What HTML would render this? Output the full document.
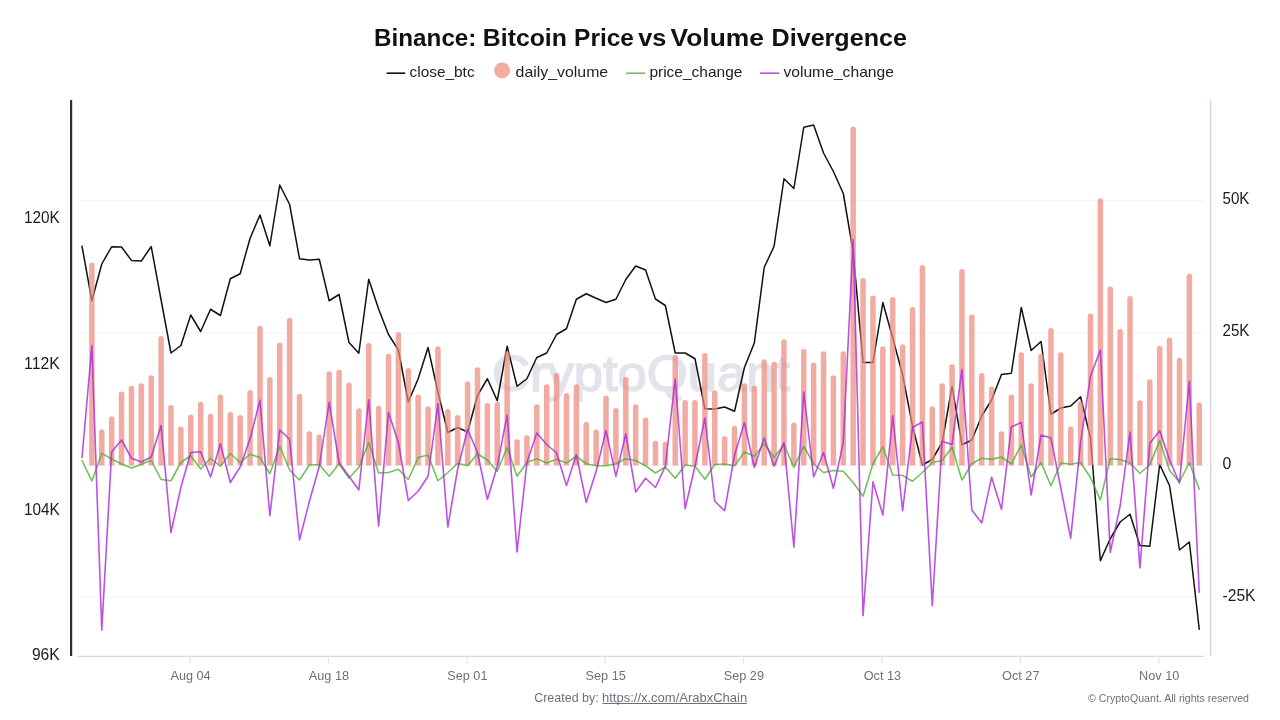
<!DOCTYPE html>
<html lang="en"><head><meta charset="utf-8"><title>Binance: Bitcoin Price vs Volume Divergence</title>
<style>html,body{margin:0;padding:0;background:#fff;}body{width:1280px;height:720px;overflow:hidden;}svg{display:block;}text{font-family:"Liberation Sans",sans-serif;}</style>
</head><body>
<svg width="1280" height="720" viewBox="0 0 1280 720">
<rect x="0" y="0" width="1280" height="720" fill="#ffffff"/>
<line x1="77.5" x2="1204" y1="200.5" y2="200.5" stroke="#f3f3f6" stroke-width="1"/>
<line x1="77.5" x2="1204" y1="333" y2="333" stroke="#f3f3f6" stroke-width="1"/>
<line x1="77.5" x2="1204" y1="465.2" y2="465.2" stroke="#f3f3f6" stroke-width="1"/>
<line x1="77.5" x2="1204" y1="597" y2="597" stroke="#f3f3f6" stroke-width="1"/>
<defs><filter id="wb" x="-5%" y="-20%" width="110%" height="140%"><feGaussianBlur stdDeviation="0.5"/></filter></defs>
<text x="492" y="391" font-size="50" fill="#e3e3eb" stroke="#e3e3eb" stroke-width="1.6" filter="url(#wb)" textLength="298" lengthAdjust="spacingAndGlyphs">CryptoQuant</text>
<polyline points="82.00,246.25 91.89,300.75 101.77,264.00 111.66,246.75 121.55,247.00 131.44,260.40 141.32,261.00 151.21,246.50 161.10,300.00 170.98,353.00 180.87,345.50 190.76,315.00 200.64,331.50 210.53,309.25 220.42,315.50 230.31,278.75 240.19,273.75 250.08,238.25 259.97,215.00 269.85,245.75 279.74,185.00 289.63,204.50 299.51,258.75 309.40,260.00 319.29,259.25 329.18,300.75 339.06,294.50 348.95,342.50 358.84,353.25 368.72,279.25 378.61,309.00 388.50,334.50 398.38,350.00 408.27,402.00 418.16,378.75 428.05,347.50 437.93,392.00 447.82,432.50 457.71,427.50 467.59,432.00 477.48,395.50 487.37,378.75 497.25,400.60 507.14,346.25 517.03,386.25 526.91,378.75 536.80,357.50 546.69,353.00 556.58,334.50 566.46,328.75 576.35,299.25 586.24,293.75 596.12,298.25 606.01,302.50 615.90,299.25 625.79,279.50 635.67,266.00 645.56,270.00 655.45,299.00 665.33,305.50 675.22,353.00 685.11,353.00 694.99,358.75 704.88,408.75 714.77,409.00 724.65,407.00 734.54,411.25 744.43,367.50 754.32,343.00 764.20,267.50 774.09,246.25 783.98,178.75 793.86,188.50 803.75,127.25 813.64,125.00 823.53,153.00 833.41,171.50 843.30,193.50 853.19,252.00 863.07,362.50 872.96,362.50 882.85,302.50 892.73,338.00 902.62,375.00 912.51,426.00 922.39,465.00 932.28,459.50 942.17,442.50 952.06,386.25 961.94,444.75 971.83,440.00 981.72,416.00 991.60,400.00 1001.49,374.50 1011.38,373.25 1021.27,307.50 1031.15,350.50 1041.04,341.50 1050.93,414.25 1060.81,408.00 1070.70,406.00 1080.59,396.75 1090.47,438.00 1100.36,560.75 1110.25,538.75 1120.13,522.00 1130.02,514.25 1139.91,545.50 1149.80,546.25 1159.68,464.50 1169.57,485.75 1179.46,550.00 1189.34,542.00 1199.23,629.25" fill="none" stroke="#111111" stroke-width="1.5" stroke-linejoin="round" stroke-linecap="round"/>
<g fill="#ed8b80" fill-opacity="0.72">
<path d="M89.14,465.4 V265.25 A2.75,2.75 0 0 1 94.64,265.25 V465.4 Z"/>
<path d="M99.02,465.4 V432.00 A2.75,2.75 0 0 1 104.52,432.00 V465.4 Z"/>
<path d="M108.91,465.4 V419.00 A2.75,2.75 0 0 1 114.41,419.00 V465.4 Z"/>
<path d="M118.80,465.4 V394.15 A2.75,2.75 0 0 1 124.30,394.15 V465.4 Z"/>
<path d="M128.69,465.4 V388.50 A2.75,2.75 0 0 1 134.19,388.50 V465.4 Z"/>
<path d="M138.57,465.4 V386.00 A2.75,2.75 0 0 1 144.07,386.00 V465.4 Z"/>
<path d="M148.46,465.4 V378.00 A2.75,2.75 0 0 1 153.96,378.00 V465.4 Z"/>
<path d="M158.35,465.4 V338.75 A2.75,2.75 0 0 1 163.85,338.75 V465.4 Z"/>
<path d="M168.23,465.4 V407.65 A2.75,2.75 0 0 1 173.73,407.65 V465.4 Z"/>
<path d="M178.12,465.4 V429.25 A2.75,2.75 0 0 1 183.62,429.25 V465.4 Z"/>
<path d="M188.01,465.4 V417.25 A2.75,2.75 0 0 1 193.51,417.25 V465.4 Z"/>
<path d="M197.89,465.4 V404.50 A2.75,2.75 0 0 1 203.39,404.50 V465.4 Z"/>
<path d="M207.78,465.4 V416.50 A2.75,2.75 0 0 1 213.28,416.50 V465.4 Z"/>
<path d="M217.67,465.4 V397.25 A2.75,2.75 0 0 1 223.17,397.25 V465.4 Z"/>
<path d="M227.56,465.4 V414.75 A2.75,2.75 0 0 1 233.06,414.75 V465.4 Z"/>
<path d="M237.44,465.4 V417.85 A2.75,2.75 0 0 1 242.94,417.85 V465.4 Z"/>
<path d="M247.33,465.4 V392.65 A2.75,2.75 0 0 1 252.83,392.65 V465.4 Z"/>
<path d="M257.22,465.4 V328.50 A2.75,2.75 0 0 1 262.72,328.50 V465.4 Z"/>
<path d="M267.10,465.4 V379.75 A2.75,2.75 0 0 1 272.60,379.75 V465.4 Z"/>
<path d="M276.99,465.4 V345.25 A2.75,2.75 0 0 1 282.49,345.25 V465.4 Z"/>
<path d="M286.88,465.4 V320.50 A2.75,2.75 0 0 1 292.38,320.50 V465.4 Z"/>
<path d="M296.76,465.4 V396.50 A2.75,2.75 0 0 1 302.26,396.50 V465.4 Z"/>
<path d="M306.65,465.4 V434.00 A2.75,2.75 0 0 1 312.15,434.00 V465.4 Z"/>
<path d="M316.54,465.4 V437.25 A2.75,2.75 0 0 1 322.04,437.25 V465.4 Z"/>
<path d="M326.43,465.4 V374.00 A2.75,2.75 0 0 1 331.93,374.00 V465.4 Z"/>
<path d="M336.31,465.4 V372.50 A2.75,2.75 0 0 1 341.81,372.50 V465.4 Z"/>
<path d="M346.20,465.4 V385.25 A2.75,2.75 0 0 1 351.70,385.25 V465.4 Z"/>
<path d="M356.09,465.4 V411.00 A2.75,2.75 0 0 1 361.59,411.00 V465.4 Z"/>
<path d="M365.97,465.4 V345.75 A2.75,2.75 0 0 1 371.47,345.75 V465.4 Z"/>
<path d="M375.86,465.4 V408.50 A2.75,2.75 0 0 1 381.36,408.50 V465.4 Z"/>
<path d="M385.75,465.4 V356.50 A2.75,2.75 0 0 1 391.25,356.50 V465.4 Z"/>
<path d="M395.63,465.4 V334.75 A2.75,2.75 0 0 1 401.13,334.75 V465.4 Z"/>
<path d="M405.52,465.4 V370.75 A2.75,2.75 0 0 1 411.02,370.75 V465.4 Z"/>
<path d="M415.41,465.4 V397.25 A2.75,2.75 0 0 1 420.91,397.25 V465.4 Z"/>
<path d="M425.30,465.4 V409.00 A2.75,2.75 0 0 1 430.80,409.00 V465.4 Z"/>
<path d="M435.18,465.4 V349.00 A2.75,2.75 0 0 1 440.68,349.00 V465.4 Z"/>
<path d="M445.07,465.4 V411.85 A2.75,2.75 0 0 1 450.57,411.85 V465.4 Z"/>
<path d="M454.96,465.4 V417.85 A2.75,2.75 0 0 1 460.46,417.85 V465.4 Z"/>
<path d="M464.84,465.4 V384.00 A2.75,2.75 0 0 1 470.34,384.00 V465.4 Z"/>
<path d="M474.73,465.4 V370.00 A2.75,2.75 0 0 1 480.23,370.00 V465.4 Z"/>
<path d="M484.62,465.4 V405.75 A2.75,2.75 0 0 1 490.12,405.75 V465.4 Z"/>
<path d="M494.50,465.4 V404.75 A2.75,2.75 0 0 1 500.00,404.75 V465.4 Z"/>
<path d="M504.39,465.4 V354.00 A2.75,2.75 0 0 1 509.89,354.00 V465.4 Z"/>
<path d="M514.28,465.4 V442.00 A2.75,2.75 0 0 1 519.78,442.00 V465.4 Z"/>
<path d="M524.16,465.4 V438.00 A2.75,2.75 0 0 1 529.66,438.00 V465.4 Z"/>
<path d="M534.05,465.4 V407.00 A2.75,2.75 0 0 1 539.55,407.00 V465.4 Z"/>
<path d="M543.94,465.4 V387.00 A2.75,2.75 0 0 1 549.44,387.00 V465.4 Z"/>
<path d="M553.83,465.4 V375.75 A2.75,2.75 0 0 1 559.33,375.75 V465.4 Z"/>
<path d="M563.71,465.4 V395.75 A2.75,2.75 0 0 1 569.21,395.75 V465.4 Z"/>
<path d="M573.60,465.4 V387.00 A2.75,2.75 0 0 1 579.10,387.00 V465.4 Z"/>
<path d="M583.49,465.4 V424.50 A2.75,2.75 0 0 1 588.99,424.50 V465.4 Z"/>
<path d="M593.37,465.4 V432.25 A2.75,2.75 0 0 1 598.87,432.25 V465.4 Z"/>
<path d="M603.26,465.4 V398.25 A2.75,2.75 0 0 1 608.76,398.25 V465.4 Z"/>
<path d="M613.15,465.4 V410.75 A2.75,2.75 0 0 1 618.65,410.75 V465.4 Z"/>
<path d="M623.04,465.4 V379.75 A2.75,2.75 0 0 1 628.54,379.75 V465.4 Z"/>
<path d="M632.92,465.4 V407.00 A2.75,2.75 0 0 1 638.42,407.00 V465.4 Z"/>
<path d="M642.81,465.4 V420.25 A2.75,2.75 0 0 1 648.31,420.25 V465.4 Z"/>
<path d="M652.70,465.4 V443.50 A2.75,2.75 0 0 1 658.20,443.50 V465.4 Z"/>
<path d="M662.58,465.4 V444.25 A2.75,2.75 0 0 1 668.08,444.25 V465.4 Z"/>
<path d="M672.47,465.4 V357.75 A2.75,2.75 0 0 1 677.97,357.75 V465.4 Z"/>
<path d="M682.36,465.4 V402.75 A2.75,2.75 0 0 1 687.86,402.75 V465.4 Z"/>
<path d="M692.24,465.4 V402.75 A2.75,2.75 0 0 1 697.74,402.75 V465.4 Z"/>
<path d="M702.13,465.4 V355.75 A2.75,2.75 0 0 1 707.63,355.75 V465.4 Z"/>
<path d="M712.02,465.4 V393.25 A2.75,2.75 0 0 1 717.52,393.25 V465.4 Z"/>
<path d="M721.90,465.4 V439.00 A2.75,2.75 0 0 1 727.40,439.00 V465.4 Z"/>
<path d="M731.79,465.4 V428.50 A2.75,2.75 0 0 1 737.29,428.50 V465.4 Z"/>
<path d="M741.68,465.4 V386.00 A2.75,2.75 0 0 1 747.18,386.00 V465.4 Z"/>
<path d="M751.57,465.4 V388.50 A2.75,2.75 0 0 1 757.07,388.50 V465.4 Z"/>
<path d="M761.45,465.4 V362.00 A2.75,2.75 0 0 1 766.95,362.00 V465.4 Z"/>
<path d="M771.34,465.4 V364.50 A2.75,2.75 0 0 1 776.84,364.50 V465.4 Z"/>
<path d="M781.23,465.4 V342.00 A2.75,2.75 0 0 1 786.73,342.00 V465.4 Z"/>
<path d="M791.11,465.4 V425.25 A2.75,2.75 0 0 1 796.61,425.25 V465.4 Z"/>
<path d="M801.00,465.4 V351.75 A2.75,2.75 0 0 1 806.50,351.75 V465.4 Z"/>
<path d="M810.89,465.4 V365.25 A2.75,2.75 0 0 1 816.39,365.25 V465.4 Z"/>
<path d="M820.78,465.4 V354.00 A2.75,2.75 0 0 1 826.28,354.00 V465.4 Z"/>
<path d="M830.66,465.4 V378.00 A2.75,2.75 0 0 1 836.16,378.00 V465.4 Z"/>
<path d="M840.55,465.4 V354.00 A2.75,2.75 0 0 1 846.05,354.00 V465.4 Z"/>
<path d="M850.44,465.4 V129.25 A2.75,2.75 0 0 1 855.94,129.25 V465.4 Z"/>
<path d="M860.32,465.4 V280.75 A2.75,2.75 0 0 1 865.82,280.75 V465.4 Z"/>
<path d="M870.21,465.4 V298.25 A2.75,2.75 0 0 1 875.71,298.25 V465.4 Z"/>
<path d="M880.10,465.4 V349.00 A2.75,2.75 0 0 1 885.60,349.00 V465.4 Z"/>
<path d="M889.98,465.4 V299.75 A2.75,2.75 0 0 1 895.48,299.75 V465.4 Z"/>
<path d="M899.87,465.4 V347.00 A2.75,2.75 0 0 1 905.37,347.00 V465.4 Z"/>
<path d="M909.76,465.4 V309.75 A2.75,2.75 0 0 1 915.26,309.75 V465.4 Z"/>
<path d="M919.64,465.4 V267.75 A2.75,2.75 0 0 1 925.14,267.75 V465.4 Z"/>
<path d="M929.53,465.4 V409.00 A2.75,2.75 0 0 1 935.03,409.00 V465.4 Z"/>
<path d="M939.42,465.4 V386.00 A2.75,2.75 0 0 1 944.92,386.00 V465.4 Z"/>
<path d="M949.31,465.4 V367.00 A2.75,2.75 0 0 1 954.81,367.00 V465.4 Z"/>
<path d="M959.19,465.4 V271.75 A2.75,2.75 0 0 1 964.69,271.75 V465.4 Z"/>
<path d="M969.08,465.4 V317.25 A2.75,2.75 0 0 1 974.58,317.25 V465.4 Z"/>
<path d="M978.97,465.4 V375.75 A2.75,2.75 0 0 1 984.47,375.75 V465.4 Z"/>
<path d="M988.85,465.4 V389.25 A2.75,2.75 0 0 1 994.35,389.25 V465.4 Z"/>
<path d="M998.74,465.4 V434.00 A2.75,2.75 0 0 1 1004.24,434.00 V465.4 Z"/>
<path d="M1008.63,465.4 V397.25 A2.75,2.75 0 0 1 1014.13,397.25 V465.4 Z"/>
<path d="M1018.52,465.4 V355.00 A2.75,2.75 0 0 1 1024.02,355.00 V465.4 Z"/>
<path d="M1028.40,465.4 V386.00 A2.75,2.75 0 0 1 1033.90,386.00 V465.4 Z"/>
<path d="M1038.29,465.4 V356.50 A2.75,2.75 0 0 1 1043.79,356.50 V465.4 Z"/>
<path d="M1048.18,465.4 V330.75 A2.75,2.75 0 0 1 1053.68,330.75 V465.4 Z"/>
<path d="M1058.06,465.4 V355.00 A2.75,2.75 0 0 1 1063.56,355.00 V465.4 Z"/>
<path d="M1067.95,465.4 V429.25 A2.75,2.75 0 0 1 1073.45,429.25 V465.4 Z"/>
<path d="M1077.84,465.4 V404.00 A2.75,2.75 0 0 1 1083.34,404.00 V465.4 Z"/>
<path d="M1087.72,465.4 V316.35 A2.75,2.75 0 0 1 1093.22,316.35 V465.4 Z"/>
<path d="M1097.61,465.4 V201.00 A2.75,2.75 0 0 1 1103.11,201.00 V465.4 Z"/>
<path d="M1107.50,465.4 V289.25 A2.75,2.75 0 0 1 1113.00,289.25 V465.4 Z"/>
<path d="M1117.38,465.4 V331.75 A2.75,2.75 0 0 1 1122.88,331.75 V465.4 Z"/>
<path d="M1127.27,465.4 V298.75 A2.75,2.75 0 0 1 1132.77,298.75 V465.4 Z"/>
<path d="M1137.16,465.4 V403.00 A2.75,2.75 0 0 1 1142.66,403.00 V465.4 Z"/>
<path d="M1147.05,465.4 V382.00 A2.75,2.75 0 0 1 1152.55,382.00 V465.4 Z"/>
<path d="M1156.93,465.4 V348.50 A2.75,2.75 0 0 1 1162.43,348.50 V465.4 Z"/>
<path d="M1166.82,465.4 V340.35 A2.75,2.75 0 0 1 1172.32,340.35 V465.4 Z"/>
<path d="M1176.71,465.4 V360.50 A2.75,2.75 0 0 1 1182.21,360.50 V465.4 Z"/>
<path d="M1186.59,465.4 V276.50 A2.75,2.75 0 0 1 1192.09,276.50 V465.4 Z"/>
<path d="M1196.48,465.4 V405.25 A2.75,2.75 0 0 1 1201.98,405.25 V465.4 Z"/>
</g>
<polyline points="82.00,460.50 91.89,481.00 101.77,453.40 111.66,459.00 121.55,464.00 131.44,468.00 141.32,464.25 151.21,460.50 161.10,479.50 170.98,480.75 180.87,462.50 190.76,455.75 200.64,469.00 210.53,458.25 220.42,466.25 230.31,453.50 240.19,462.50 250.08,454.25 259.97,457.50 269.85,473.75 279.74,446.25 289.63,470.00 299.51,480.00 309.40,465.00 319.29,464.50 329.18,476.25 339.06,463.75 348.95,478.00 358.84,467.50 368.72,442.50 378.61,473.00 388.50,472.50 398.38,469.25 408.27,479.50 418.16,457.50 428.05,455.00 437.93,480.75 447.82,472.50 457.71,463.25 467.59,465.75 477.48,453.75 487.37,460.00 497.25,471.25 507.14,447.50 517.03,476.25 526.91,462.50 536.80,458.75 546.69,463.00 556.58,459.25 566.46,463.00 576.35,456.25 586.24,463.75 596.12,465.75 606.01,465.75 615.90,463.75 625.79,458.75 635.67,460.50 645.56,465.75 655.45,473.00 665.33,467.00 675.22,478.25 685.11,465.00 694.99,466.25 704.88,479.25 714.77,464.50 724.65,464.00 734.54,465.75 744.43,452.00 754.32,456.25 764.20,443.75 774.09,457.50 783.98,444.50 793.86,467.50 803.75,446.25 813.64,463.75 823.53,472.50 833.41,470.50 843.30,471.25 853.19,482.50 863.07,496.25 872.96,463.75 882.85,446.75 892.73,475.00 902.62,475.50 912.51,481.25 922.39,472.50 932.28,462.50 942.17,460.50 952.06,447.00 961.94,480.00 971.83,463.75 981.72,458.25 991.60,459.40 1001.49,457.00 1011.38,464.00 1021.27,445.00 1031.15,477.00 1041.04,462.50 1050.93,485.75 1060.81,463.00 1070.70,464.25 1080.59,462.50 1090.47,477.50 1100.36,500.00 1110.25,458.75 1120.13,459.50 1130.02,463.00 1139.91,473.25 1149.80,465.00 1159.68,440.60 1169.57,470.60 1179.46,482.00 1189.34,462.50 1199.23,489.25" fill="none" stroke="#50b033" stroke-opacity="0.8" stroke-width="1.6" stroke-linejoin="round" stroke-linecap="round"/>
<polyline points="82.00,457.50 91.89,345.50 101.77,630.00 111.66,452.00 121.55,440.00 131.44,458.25 141.32,462.00 151.21,457.00 161.10,425.50 170.98,532.50 180.87,487.50 190.76,452.50 200.64,451.75 210.53,477.00 220.42,443.75 230.31,482.50 240.19,467.00 250.08,438.75 259.97,400.25 269.85,515.75 279.74,430.00 289.63,439.25 299.51,540.00 309.40,501.25 319.29,466.25 329.18,402.25 339.06,462.50 348.95,476.25 358.84,490.00 368.72,399.75 378.61,526.25 388.50,412.50 398.38,442.50 408.27,500.50 418.16,491.25 428.05,476.25 437.93,403.75 447.82,527.00 457.71,468.75 467.59,429.50 477.48,452.50 487.37,499.50 497.25,466.25 507.14,415.00 517.03,552.00 526.91,462.50 536.80,433.00 546.69,444.50 556.58,453.00 566.46,485.50 576.35,454.50 586.24,502.50 596.12,471.25 606.01,430.50 615.90,476.25 625.79,433.75 635.67,492.00 645.56,478.25 655.45,487.50 665.33,466.25 675.22,378.75 685.11,508.75 694.99,466.25 704.88,418.00 714.77,501.25 724.65,510.75 734.54,455.00 744.43,422.50 754.32,467.50 764.20,438.00 774.09,466.25 783.98,442.50 793.86,547.00 803.75,391.75 813.64,477.00 823.53,452.50 833.41,488.25 843.30,442.50 853.19,239.50 863.07,615.75 872.96,481.75 882.85,515.00 892.73,415.75 902.62,510.75 912.51,427.50 922.39,422.00 932.28,605.75 942.17,441.25 952.06,444.50 961.94,369.40 971.83,510.00 981.72,523.00 991.60,477.25 1001.49,509.25 1011.38,427.00 1021.27,422.50 1031.15,495.00 1041.04,435.00 1050.93,438.00 1060.81,488.00 1070.70,538.25 1080.59,442.50 1090.47,376.25 1100.36,350.00 1110.25,552.50 1120.13,506.00 1130.02,432.00 1139.91,568.00 1149.80,443.25 1159.68,430.75 1169.57,460.00 1179.46,483.00 1189.34,381.25 1199.23,592.25" fill="none" stroke="#ab27dd" stroke-opacity="0.8" stroke-width="1.6" stroke-linejoin="round" stroke-linecap="round"/>
<line x1="71.1" x2="71.1" y1="100" y2="656" stroke="#303030" stroke-width="2.2"/>
<line x1="1210.6" x2="1210.6" y1="100" y2="656" stroke="#d2d2e1" stroke-width="1.4"/>
<line x1="77.3" x2="1204" y1="656.4" y2="656.4" stroke="#d6d6e4" stroke-width="1.2"/>
<line x1="190.1" x2="190.1" y1="656.4" y2="663.8" stroke="#e6e6ee" stroke-width="1.4"/>
<text x="190.54999999999998" y="680.2" font-size="12.7" fill="#6e7079" text-anchor="middle">Aug 04</text>
<line x1="328.5" x2="328.5" y1="656.4" y2="663.8" stroke="#e6e6ee" stroke-width="1.4"/>
<text x="328.95" y="680.2" font-size="12.7" fill="#6e7079" text-anchor="middle">Aug 18</text>
<line x1="466.9" x2="466.9" y1="656.4" y2="663.8" stroke="#e6e6ee" stroke-width="1.4"/>
<text x="467.34999999999997" y="680.2" font-size="12.7" fill="#6e7079" text-anchor="middle">Sep 01</text>
<line x1="605.2" x2="605.2" y1="656.4" y2="663.8" stroke="#e6e6ee" stroke-width="1.4"/>
<text x="605.6500000000001" y="680.2" font-size="12.7" fill="#6e7079" text-anchor="middle">Sep 15</text>
<line x1="743.4" x2="743.4" y1="656.4" y2="663.8" stroke="#e6e6ee" stroke-width="1.4"/>
<text x="743.85" y="680.2" font-size="12.7" fill="#6e7079" text-anchor="middle">Sep 29</text>
<line x1="882" x2="882" y1="656.4" y2="663.8" stroke="#e6e6ee" stroke-width="1.4"/>
<text x="882.45" y="680.2" font-size="12.7" fill="#6e7079" text-anchor="middle">Oct 13</text>
<line x1="1020.3" x2="1020.3" y1="656.4" y2="663.8" stroke="#e6e6ee" stroke-width="1.4"/>
<text x="1020.75" y="680.2" font-size="12.7" fill="#6e7079" text-anchor="middle">Oct 27</text>
<line x1="1158.7" x2="1158.7" y1="656.4" y2="663.8" stroke="#e6e6ee" stroke-width="1.4"/>
<text x="1159.15" y="680.2" font-size="12.7" fill="#6e7079" text-anchor="middle">Nov 10</text>
<text x="23.90" y="223.4" font-size="16" fill="#1c1c1c" textLength="35.8" lengthAdjust="spacingAndGlyphs">120K</text>
<text x="24.10" y="369.0" font-size="16" fill="#1c1c1c" textLength="35.6" lengthAdjust="spacingAndGlyphs">112K</text>
<text x="23.90" y="514.5" font-size="16" fill="#1c1c1c" textLength="35.8" lengthAdjust="spacingAndGlyphs">104K</text>
<text x="31.90" y="660" font-size="16" fill="#1c1c1c" textLength="27.8" lengthAdjust="spacingAndGlyphs">96K</text>
<text x="1222.5" y="204.0" font-size="16" fill="#1c1c1c" textLength="26.9" lengthAdjust="spacingAndGlyphs">50K</text>
<text x="1222.5" y="335.9" font-size="16" fill="#1c1c1c" textLength="26.9" lengthAdjust="spacingAndGlyphs">25K</text>
<text x="1222.5" y="468.7" font-size="16" fill="#1c1c1c" textLength="8.8" lengthAdjust="spacingAndGlyphs">0</text>
<text x="1222.5" y="600.9" font-size="16" fill="#1c1c1c" textLength="33.0" lengthAdjust="spacingAndGlyphs">-25K</text>
<text y="45.7" font-size="24.6" font-weight="bold" fill="#111111"><tspan x="374.10" textLength="102.30" lengthAdjust="spacingAndGlyphs">Binance:</tspan> <tspan x="482.85" textLength="84.05" lengthAdjust="spacingAndGlyphs">Bitcoin</tspan> <tspan x="574.10" textLength="59.80" lengthAdjust="spacingAndGlyphs">Price</tspan> <tspan x="638.35" textLength="28.05" lengthAdjust="spacingAndGlyphs">vs</tspan> <tspan x="670.60" textLength="93.30" lengthAdjust="spacingAndGlyphs">Volume</tspan> <tspan x="771.60" textLength="135.30" lengthAdjust="spacingAndGlyphs">Divergence</tspan></text>
<line x1="386.6" x2="405.2" y1="73.2" y2="73.2" stroke="#111" stroke-width="1.6"/>
<text x="409.6" y="77.2" font-size="15" fill="#222" textLength="65" lengthAdjust="spacingAndGlyphs">close_btc</text>
<circle cx="502.1" cy="70.4" r="7.9" fill="#f3aba2"/>
<text x="515.6" y="77.2" font-size="15" fill="#222" textLength="92.6" lengthAdjust="spacingAndGlyphs">daily_volume</text>
<line x1="626.1" x2="645" y1="73.2" y2="73.2" stroke="#50b033" stroke-opacity="0.8" stroke-width="1.6"/>
<text x="649.4" y="77.2" font-size="15" fill="#222" textLength="93" lengthAdjust="spacingAndGlyphs">price_change</text>
<line x1="760" x2="779.4" y1="73.2" y2="73.2" stroke="#ab27dd" stroke-opacity="0.8" stroke-width="1.6"/>
<text x="783.4" y="77.2" font-size="15" fill="#222" textLength="110.6" lengthAdjust="spacingAndGlyphs">volume_change</text>
<text y="702.3" font-size="12.8" fill="#6e7079"><tspan x="534.2" textLength="64.6" lengthAdjust="spacingAndGlyphs">Created by:</tspan> <tspan x="602" textLength="145.2" lengthAdjust="spacingAndGlyphs">https://x.com/ArabxChain</tspan></text>
<line x1="602.4" x2="746.9" y1="703.5" y2="703.5" stroke="#6e7079" stroke-width="1"/>
<text x="1088" y="701.8" font-size="10.5" fill="#6e7079" textLength="161" lengthAdjust="spacingAndGlyphs">© CryptoQuant. All rights reserved</text>
</svg></body></html>
